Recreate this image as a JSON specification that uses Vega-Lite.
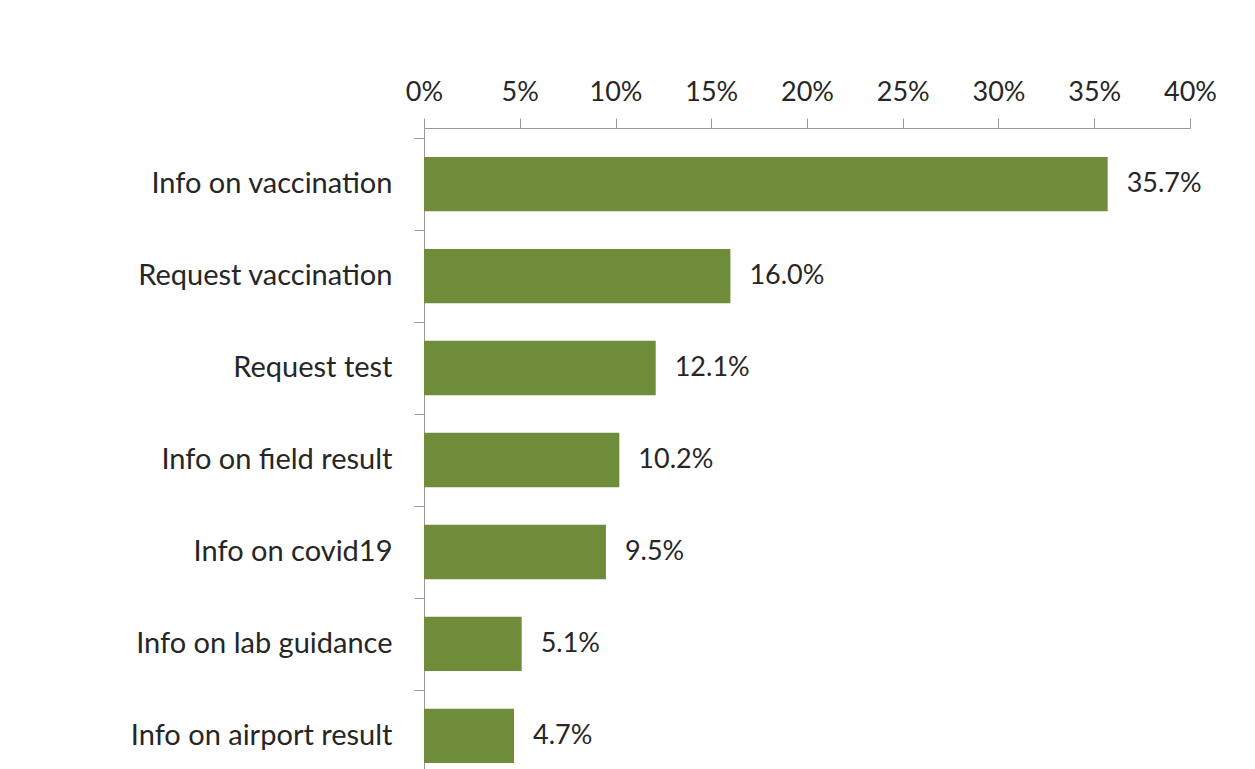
{
  "$schema": "https://vega.github.io/schema/vega-lite/v6.json",
  "width": 766,
  "height": 664,
  "autosize": "none",
  "padding": {"left": 424, "top": 128, "right": 65, "bottom": 0},
  "background": "white",
  "config": {"view": {"stroke": null}, "font": "Lato"},
  "data": {
    "values": [
      {"category": "Info on vaccination", "value": 0.357},
      {"category": "Request vaccination", "value": 0.160},
      {"category": "Request test", "value": 0.121},
      {"category": "Info on field result", "value": 0.102},
      {"category": "Info on covid19", "value": 0.095},
      {"category": "Info on lab guidance", "value": 0.051},
      {"category": "Info on airport result", "value": 0.047}
    ]
  },
  "encoding": {
    "y": {
      "field": "category",
      "type": "nominal",
      "sort": null,
      "scale": {"paddingInner": 0.41, "paddingOuter": 0.314},
      "axis": {
        "title": null,
        "domainColor": "#999999",
        "tickColor": "#999999",
        "tickSize": 10,
        "bandPosition": -0.347,
        "labelFontSize": 29,
        "labelColor": "#262626",
        "labelPadding": 22,
        "labelLimit": 400,
        "labelFont": "Lato"
      }
    },
    "x": {
      "field": "value",
      "type": "quantitative",
      "scale": {"domain": [0, 0.4], "nice": false},
      "axis": {
        "orient": "top",
        "values": [0, 0.05, 0.1, 0.15, 0.2, 0.25, 0.3, 0.35, 0.4],
        "format": ".0%",
        "grid": false,
        "title": null,
        "domainColor": "#999999",
        "tickColor": "#999999",
        "tickSize": 10,
        "labelFlush": false,
        "labelOverlap": false,
        "labelFontSize": 27,
        "labelColor": "#262626",
        "labelPadding": 12,
        "labelFont": "Lato"
      }
    }
  },
  "layer": [
    {"mark": {"type": "bar", "color": "#6F8C3A"}},
    {
      "mark": {"type": "text", "align": "left", "baseline": "middle", "dx": 19, "fontSize": 27, "color": "#262626", "font": "Lato"},
      "encoding": {"text": {"field": "value", "type": "quantitative", "format": ".1%"}}
    }
  ]
}
